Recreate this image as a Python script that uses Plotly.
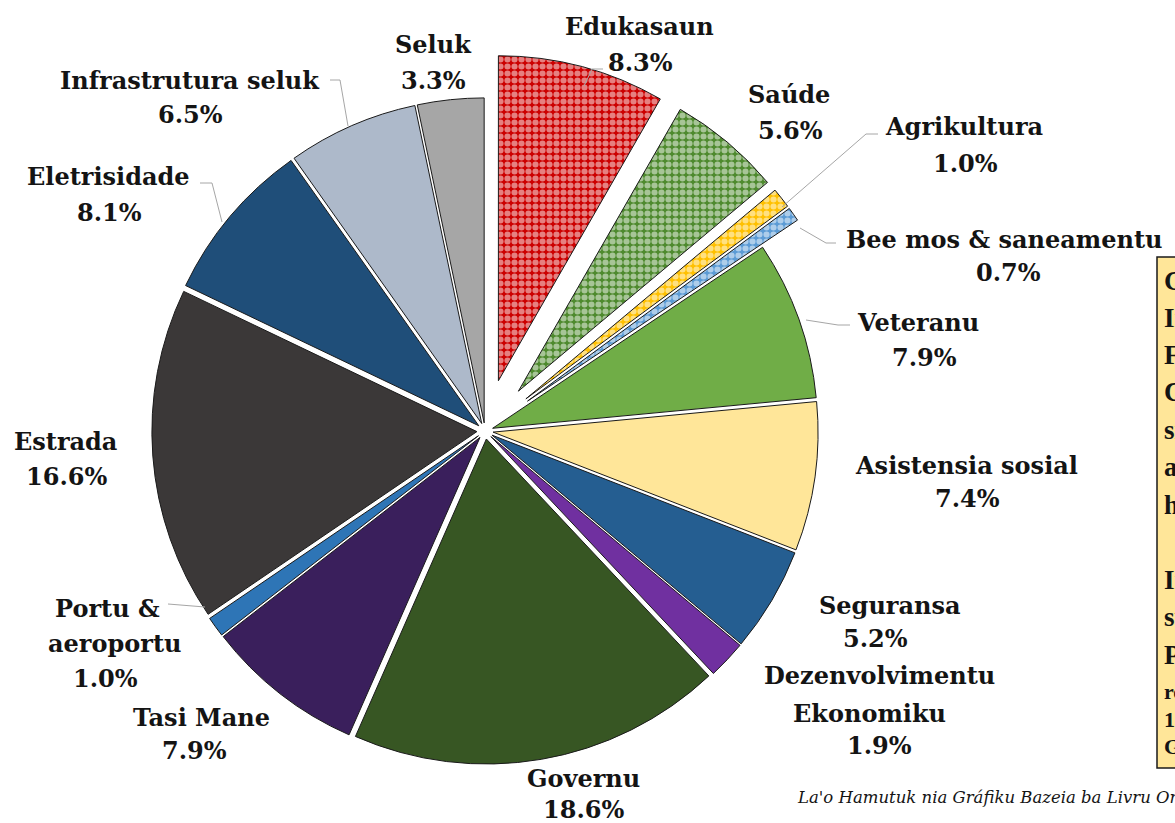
import plotly.graph_objects as go

# ---------------- data ----------------
categories = ["Edukasaun", "Saúde", "Agrikultura", "Bee mos & saneamentu",
              "Veteranu", "Asistensia sosial", "Seguransa",
              "Dezenvolvimentu Ekonomiku", "Governu", "Tasi Mane",
              "Portu & aeroportu", "Estrada", "Eletrisidade",
              "Infrastrutura seluk", "Seluk"]
shares = [8.3, 5.6, 1.0, 0.7, 7.9, 7.4, 5.2, 1.9, 18.6, 7.9, 1.0, 16.6, 8.1, 6.5, 3.3]

caption_text = "La'o Hamutuk nia Gráfiku Bazeia ba Livru Orsamentu Jerál Estadu"
box_lines = ["Gastu", "Inklui", "Fundu", "Covid-19", "sira", "atu", "hadi'a", "",
             "Inklui", "subsídiu", "Públiku", "rekursu", "1%", "Gastu"]

# ---------------- styles ----------------
W, H = 1175, 823
slice_colors = ["#CC0000", "#4E8A2E", "#FFC000", "#5B9BD5", "#70AD47", "#FFE699",
                "#255E91", "#7030A0", "#375623", "#3A1F5C", "#2E75B6", "#3B3838",
                "#1F4E79", "#ADB9CA", "#A6A6A6"]
pattern_shapes = [".", ".", ".", "."] + [""] * 11
pulls = [0.16, 0.16, 0.16, 0.16] + [0.025] * 11

def px(x):
    return x / W

def py(y):
    return 1 - y / H

cx, cy, half = 485, 431, 377
fig = go.Figure(go.Pie(
    labels=categories, values=shares, sort=False, direction="clockwise",
    rotation=0, pull=pulls, textinfo="none", hoverinfo="label+percent",
    marker=dict(colors=slice_colors, line=dict(color="#1a1a1a", width=1),
                pattern=dict(shape=pattern_shapes, fgcolor="white",
                             fillmode="overlay", size=7, solidity=0.6)),
    domain=dict(x=[px(cx - half), px(cx + half)],
                y=[py(cy + half), py(cy - half)]),
    showlegend=False,
))

pct = {c: f"{v:.1f}%" for c, v in zip(categories, shares)}

# label layout: (lines, list of (x, y) centres)
label_layout = {
    "Seluk": (["Seluk", pct["Seluk"]], [(433, 45), (433, 80)]),
    "Edukasaun": (["Edukasaun", pct["Edukasaun"]], [(639, 27), (640, 62)]),
    "Saúde": (["Saúde", pct["Saúde"]], [(789, 95), (790, 130)]),
    "Agrikultura": (["Agrikultura", pct["Agrikultura"]], [(964, 127), (965, 163)]),
    "Bee mos & saneamentu": (["Bee mos & saneamentu", pct["Bee mos & saneamentu"]],
                             [(1004, 240), (1008, 272)]),
    "Veteranu": (["Veteranu", pct["Veteranu"]], [(918, 323), (924, 357)]),
    "Asistensia sosial": (["Asistensia sosial", pct["Asistensia sosial"]],
                          [(966, 465), (967, 498)]),
    "Seguransa": (["Seguransa", pct["Seguransa"]], [(890, 605), (875, 638)]),
    "Dezenvolvimentu Ekonomiku": (["Dezenvolvimentu", "Ekonomiku",
                                   pct["Dezenvolvimentu Ekonomiku"]],
                                  [(879, 675), (869, 713), (879, 745)]),
    "Governu": (["Governu", pct["Governu"]], [(583, 778), (583, 809)]),
    "Tasi Mane": (["Tasi Mane", pct["Tasi Mane"]], [(201, 717), (194, 750)]),
    "Portu & aeroportu": (["Portu &", "aeroportu", pct["Portu & aeroportu"]],
                          [(107, 608), (114, 643), (105, 678)]),
    "Estrada": (["Estrada", pct["Estrada"]], [(65, 441), (66, 476)]),
    "Eletrisidade": (["Eletrisidade", pct["Eletrisidade"]], [(108, 176), (109, 212)]),
    "Infrastrutura seluk": (["Infrastrutura seluk", pct["Infrastrutura seluk"]],
                            [(190, 80), (190, 115)]),
}

label_font = dict(family="DejaVu Serif", size=24, color="#141414")
annotations = []
for cat in categories:
    lines, pos = label_layout[cat]
    for t, (x, y) in zip(lines, pos):
        annotations.append(dict(
            text=f"<b>{t}</b>", x=px(x), y=py(y), xref="paper", yref="paper",
            xanchor="center", yanchor="middle", showarrow=False, font=label_font))

# leader lines
leaders = [
    [(584, 86), (592, 69), (603, 69)],
    [(330, 80), (340, 80), (348, 126)],
    [(200, 183), (212, 183), (222, 222)],
    [(878, 134), (866, 134), (782, 207)],
    [(800, 228), (826, 243), (836, 243)],
    [(806, 320), (838, 325), (850, 325)],
    [(168, 604), (205, 607)],
]
shapes = []
for pts in leaders:
    for (x0, y0), (x1, y1) in zip(pts[:-1], pts[1:]):
        shapes.append(dict(type="line", xref="paper", yref="paper",
                           x0=px(x0), y0=py(y0), x1=px(x1), y1=py(y1),
                           line=dict(color="#A6A6A6", width=1)))

# note box on the right (partly outside the page)
shapes.append(dict(type="rect", xref="paper", yref="paper",
                   x0=px(1157), x1=px(1260), y0=py(768), y1=py(257),
                   fillcolor="#FFE699", line=dict(color="#1a1a1a", width=1.5)))
box_y = [281, 318, 355, 392, 430, 467, 505, 542, 580, 617, 655, 691, 719, 746]
box_sizes = [27] * 11 + [22, 22, 22]
for t, y, s in zip(box_lines, box_y, box_sizes):
    if not t:
        continue
    annotations.append(dict(
        text=f"<b>{t}</b>", x=px(1162), y=py(y), xref="paper", yref="paper",
        xanchor="left", yanchor="middle", showarrow=False,
        font=dict(family="Liberation Serif", size=s, color="#141414")))

annotations.append(dict(
    text=f"<i>{caption_text}</i>", x=px(795), y=py(797), xref="paper", yref="paper",
    xanchor="left", yanchor="middle", showarrow=False,
    font=dict(family="DejaVu Serif", size=16.5, color="#141414")))

fig.update_layout(
    width=W, height=H, margin=dict(l=0, r=0, t=0, b=0),
    paper_bgcolor="white", plot_bgcolor="white",
    annotations=annotations, shapes=shapes,
)

fig.write_html("out.html", config={"displayModeBar": False},
               post_script="document.body.style.margin='0';"
                           "document.body.style.overflow='hidden';")
